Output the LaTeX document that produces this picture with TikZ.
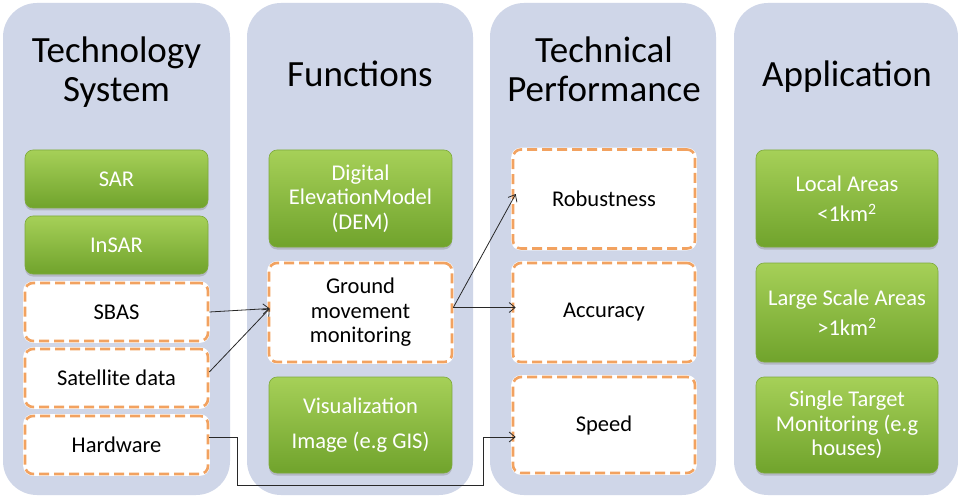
\documentclass[tikz,border=0pt]{standalone}
\usepackage{fontspec}
\setmainfont{Carlito}
\usetikzlibrary{arrows.meta,shadows,calc}

\definecolor{panelbg}{RGB}{207,214,232}
\definecolor{greentop}{RGB}{166,208,88}
\definecolor{greenbot}{RGB}{112,163,44}
\definecolor{greenedge}{RGB}{126,170,60}
\definecolor{dashorange}{RGB}{242,162,96}
\definecolor{linkgrey}{RGB}{40,40,40}

\tikzset{
  panel/.style={fill=panelbg, draw=none, rounded corners=34pt},
  title/.style={font=\fontsize{37}{40}\selectfont, anchor=base, text=black, inner sep=0pt},
  box/.style={minimum width=183pt, inner sep=0pt, align=center,
    font=\fontsize{22.5}{24.5}\selectfont, rounded corners=8pt},
  greenbox/.style={box, top color=greentop, bottom color=greenbot, draw=greenedge,
    line width=0.6pt, text=white,
    drop shadow={opacity=0.35, shadow xshift=0pt, shadow yshift=-2.5pt}},
  dashbox/.style={box, fill=white, draw=dashorange, line width=2.6pt,
    dash pattern=on 10pt off 5pt,
    preaction={draw=white, line width=3.6pt, solid}},
  link/.style={draw=linkgrey, line width=0.8pt, -{Straight Barb[length=6pt,width=10pt]}},
}

\begin{document}
\begin{tikzpicture}[x=1pt, y=-1pt]
  \useasboundingbox[fill=white] (0,0) rectangle (958,497);

  % column panels
  \fill[panel] (3,3)   rectangle (230,495);
  \fill[panel] (247,3) rectangle (473,495);
  \fill[panel] (490,3) rectangle (716,495);
  \fill[panel] (734,3) rectangle (958,495);

  % column headings
  \node[title] (t1a) at (116.5,63)  {Technology};
  \node[title] (t1b) at (116.5,102) {System};
  \node[title] (t2)  at (360,87)    {Functions};
  \node[title] (t3a) at (604,63)    {Technical};
  \node[title] (t3b) at (604,102)   {Performance};
  \node[title] (t4)  at (847,87)    {Application};

  % technology system
  \node[greenbox, minimum height=58pt] (sar)   at (116.5,179) {SAR};
  \node[greenbox, minimum height=58pt] (insar) at (116.5,245) {InSAR};
  \node[dashbox,  minimum height=58pt] (sbas)  at (116.5,312) {SBAS};
  \node[dashbox,  minimum height=58pt] (sat)   at (116.5,378) {Satellite data};
  \node[dashbox,  minimum height=58pt] (hw)    at (116.5,445) {Hardware};

  % functions
  \node[greenbox, minimum height=97pt] (dem) at (360.5,198.5) {Digital\\ElevationModel\\(DEM)};
  \node[dashbox,  minimum height=99pt] (gm)  at (360.5,312.5) {Ground\\movement\\monitoring};
  \node[greenbox, minimum height=96pt] (vis) at (360.5,425)   {Visualization\\[10pt]Image (e.g GIS)};

  % technical performance
  \node[dashbox, minimum width=182pt, minimum height=99pt] (rob) at (604,199)   {Robustness};
  \node[dashbox, minimum width=182pt, minimum height=99pt] (acc) at (604,312.5) {Accuracy};
  \node[dashbox, minimum width=182pt, minimum height=96pt] (spd) at (604,425)   {Speed};

  % application
  \node[greenbox, minimum width=182pt, minimum height=97pt] (loc) at (847,198.5) {Local Areas\\[6pt]<1km\textsuperscript{2}};
  \node[greenbox, minimum width=182pt, minimum height=99pt] (lrg) at (847,312.5) {Large Scale Areas\\[6pt]>1km\textsuperscript{2}};
  \node[greenbox, minimum width=182pt, minimum height=96pt] (sgl) at (847,425)   {Single Target\\Monitoring (e.g\\houses)};

  % connectors
  \coordinate (gmin)  at ($(gm.west)+(2,-4)$);
  \coordinate (gmout) at ($(gm.east)+(0,-5)$);
  \coordinate (hwA) at (237,485);
  \coordinate (hwB) at (483,485);

  \draw[link] (sbas.east) -- (gmin);
  \draw[link] ($(sat.east)+(0,-6)$) -- (gmin);
  \draw[link] (gmout) -- ($(rob.west)+(4,-5)$);
  \draw[link] (gmout) -- ($(acc.west)+(4,-5)$);
  \draw[link] ($(hw.east)+(0,-8)$) -| (hwA) -- (hwB) |- ($(spd.west)+(4,12)$);
\end{tikzpicture}
\end{document}
